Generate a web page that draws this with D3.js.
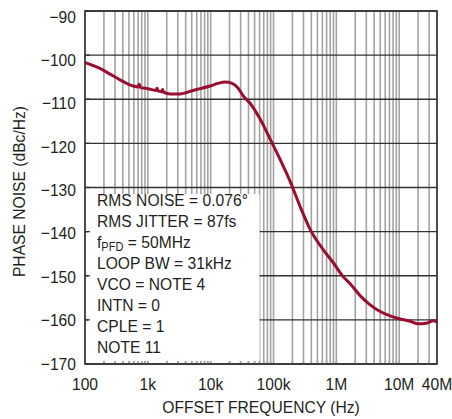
<!DOCTYPE html>
<meta charset="utf-8">
<script src="https://d3js.org/d3.v7.min.js"></script>
<style>
  body { margin: 0; background: #fff; }
  text { font-family: "Liberation Sans", Arial, Helvetica, sans-serif; fill: #231f20; }
</style>
<div id="chart"></div>
<script>

var freq = [100, 120, 173, 250, 361, 581, 700, 730, 760, 1000, 1350, 1400, 1450, 1560, 1680, 1720, 1780,
            2260, 3260, 5250, 6780, 9780, 13100, 17000, 21900, 27000, 32800, 42400, 61200, 88300,
            127000, 184000, 265000, 383000, 617000, 890000, 1280000, 1660000, 2390000, 3450000,
            4980000, 7190000, 10400000, 15000000, 20100000, 27900000, 34800000, 40000000];
var noise = [-101.7, -102.1, -103.0, -104.3, -105.6, -107.0, -107.2, -106.6, -107.3, -107.6, -108.0, -107.5, -108.1, -108.2, -108.3, -107.8, -108.4,
             -108.8, -108.8, -108.0, -107.6, -107.0, -106.4, -106.1, -106.4, -107.4, -109.2, -110.9, -114.5, -119.0,
             -123.6, -128.6, -134.3, -139.5, -144.1, -147.0, -150.2, -151.8, -154.5, -156.6,
             -158.1, -159.1, -159.8, -160.3, -160.9, -160.7, -160.2, -160.5];

var yTicks = [-170, -160, -150, -140, -130, -120, -110, -100, -90];
var xTickVals = [100, 1e3, 1e4, 1e5, 1e6, 1e7, 4e7];
var xTickLabels = ["100", "1k", "10k", "100k", "1M", "10M", "40M"];

var notes = ["RMS NOISE = 0.076°", "RMS JITTER = 87fs", "fPFD = 50MHz", "LOOP BW = 31kHz",
             "VCO = NOTE 4", "INTN = 0", "CPLE = 1", "NOTE 11"];

var W = 452, H = 419;
var margin = {top: 11, right: 15, bottom: 55, left: 85},
    width = W - margin.left - margin.right,
    height = H - margin.top - margin.bottom;

var svg = d3.select("#chart").append("svg")
    .attr("width", W)
    .attr("height", H);

var g = svg.append("g")
    .attr("transform", "translate(" + margin.left + "," + margin.top + ")");

var x = d3.scaleLog().domain([100, 4e7]).range([0, width]);
var y = d3.scaleLinear().domain([-170, -90]).range([height, 0]);

// narrow-ish helvetica look: squeeze liberation sans a bit
var SQ = 0.92;
function label(parent, px, py, s, anchor, size) {
  return parent.append("text")
    .attr("transform", "translate(" + px + "," + py + ") scale(" + SQ + ",1)")
    .attr("text-anchor", anchor || "start")
    .style("font-size", (size || 17) + "px")
    .text(s);
}

// minor + major vertical grid (1..9 per decade)
var vLines = [];
for (var dec = 100; dec <= 1e7; dec *= 10) {
  for (var k = 1; k <= 9; k++) {
    var f = dec * k;
    if (f <= 4e7) vLines.push(f);
  }
}

g.selectAll(".vgrid")
  .data(vLines)
  .enter().append("line")
    .attr("x1", function(d) { return x(d); })
    .attr("x2", function(d) { return x(d); })
    .attr("y1", 0)
    .attr("y2", height)
    .style("stroke", "#a3a3a3")
    .style("stroke-width", 1.6);

g.selectAll(".hgrid")
  .data(yTicks)
  .enter().append("line")
    .attr("x1", 0)
    .attr("x2", width)
    .attr("y1", function(d) { return y(d); })
    .attr("y2", function(d) { return y(d); })
    .style("stroke", "#333")
    .style("stroke-width", 1.3);

// curve
var line = d3.line()
  .x(function(d, i) { return x(freq[i]); })
  .y(function(d) { return y(d); })
  .curve(d3.curveMonotoneX);

g.append("path")
  .datum(noise)
  .attr("d", line)
  .style("fill", "none")
  .style("stroke", "#990f2f")
  .style("stroke-width", 3)
  .style("stroke-linejoin", "round");

// white label box over the lower-left grid
g.append("rect")
  .attr("x", 3)
  .attr("y", y(-131.5))
  .attr("width", x(6.0e4) - 3)
  .attr("height", y(-169.3) - y(-131.5))
  .style("fill", "#fff");

// short ticks that stay visible inside the box
g.selectAll(".btick")
  .data(vLines)
  .enter().append("line")
    .attr("x1", function(d) { return x(d); })
    .attr("x2", function(d) { return x(d); })
    .attr("y1", height)
    .attr("y2", height - 3)
    .style("stroke", "#a3a3a3")
    .style("stroke-width", 1.6);

g.selectAll(".ltick")
  .data(yTicks)
  .enter().append("line")
    .attr("x1", 0)
    .attr("x2", 5)
    .attr("y1", function(d) { return y(d); })
    .attr("y2", function(d) { return y(d); })
    .style("stroke", "#333")
    .style("stroke-width", 1.3);

// frame
g.append("rect")
  .attr("width", width)
  .attr("height", height)
  .style("fill", "none")
  .style("stroke", "#333")
  .style("stroke-width", 1.6);

// notes
notes.forEach(function(s, i) {
  var t = label(g, 12, 194.5 + i * 21.1, "");
  if (s.indexOf("fPFD") === 0) {
    t.append("tspan").text("f");
    t.append("tspan").text("PFD").style("font-size", "12px").attr("dy", 3);
    t.append("tspan").text(s.slice(4)).attr("dy", -3);
  } else {
    t.text(s);
  }
});

// tick labels (printed ones sit a touch tighter than the grid)
yTicks.forEach(function(d) {
  label(g, -9, y(d) + 5.5 + 6 * (d + 170) / 80, "\u2212" + Math.abs(d), "end");
});

xTickVals.forEach(function(d, i) {
  label(g, x(d), height + 26, xTickLabels[i], "middle");
});

label(g, width / 2, height + 49, "OFFSET FREQUENCY (Hz)", "middle");

svg.append("text")
  .attr("transform", "translate(25," + (margin.top + height / 2 + 4) + ") rotate(-90) scale(" + SQ + ",1)")
  .attr("text-anchor", "middle")
  .style("font-size", "17px")
  .text("PHASE NOISE (dBc/Hz)");

svg.append("text")
  .attr("x", 396)
  .attr("y", 425)
  .style("font-size", "9px")
  .style("fill", "#888")
  .text("6945 G11");

</script>
